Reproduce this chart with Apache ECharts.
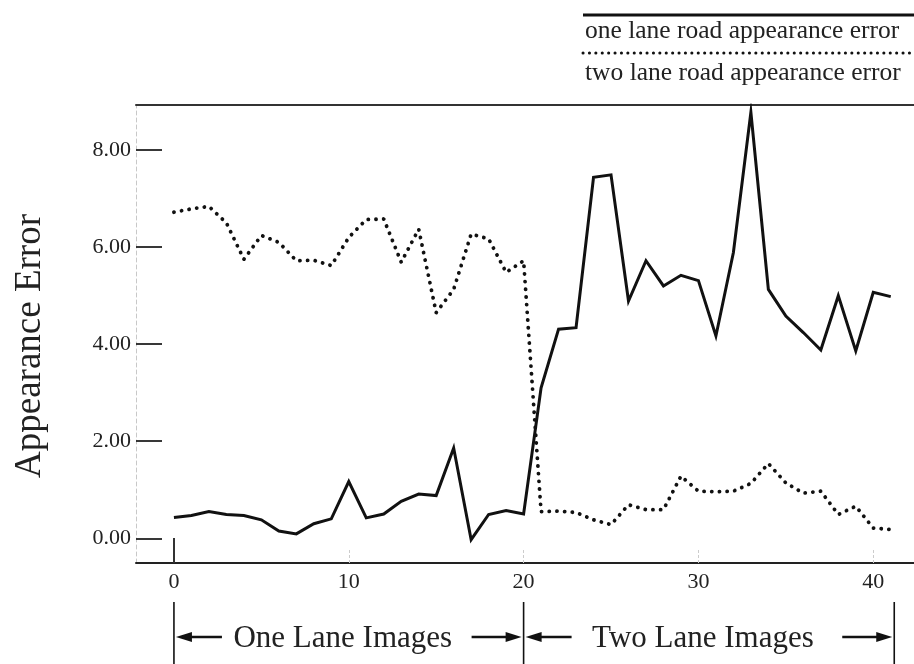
<!DOCTYPE html>
<html>
<head>
<meta charset="utf-8">
<script src="https://cdn.jsdelivr.net/npm/echarts@6/dist/echarts.min.js"></script>
<style>
  html, body { margin: 0; padding: 0; background: #fff; }
  #chart { width: 914px; height: 664px; }
</style>
</head>
<body>
<div id="chart"></div>
<script>
// image index is the position in each array (0..41)
const oneLaneError = [
  0.43, 0.47, 0.55, 0.49, 0.47, 0.38, 0.15, 0.09, 0.30, 0.40,
  1.17, 0.42, 0.50, 0.76, 0.91, 0.88, 1.86, -0.03, 0.49, 0.57,
  0.50, 3.10, 4.31, 4.34, 7.44, 7.49, 4.89, 5.72, 5.20, 5.42,
  5.31, 4.17, 5.89, 8.78, 5.13, 4.58, 4.24, 3.88, 5.00, 3.86,
  5.07, 4.98
];
const twoLaneError = [
  6.72, 6.79, 6.84, 6.50, 5.75, 6.24, 6.10, 5.72, 5.73, 5.62,
  6.20, 6.57, 6.58, 5.69, 6.37, 4.65, 5.13, 6.27, 6.17, 5.48,
  5.72, 0.55, 0.56, 0.53, 0.38, 0.28, 0.69, 0.59, 0.59, 1.28,
  0.97, 0.96, 0.97, 1.13, 1.54, 1.14, 0.93, 0.97, 0.49, 0.66,
  0.21, 0.18
];
const seriesNames = ["one lane road appearance error", "two lane road appearance error"];
const xLabelValues = [0, 10, 20, 30, 40];
const xFaintTicks = [10, 20, 30, 40];
const yTickValues = [0, 2, 4, 6, 8];
const sectionLabels = ["One Lane Images", "Two Lane Images"];
const sectionBounds = [0, 20, 41.2];

const FONT = "Liberation Serif";
const chart = echarts.init(document.getElementById("chart"));

const toPairs = (arr) => arr.map((v, i) => [i, v]);

const xRange = { min: -2.17, max: 42.33 };

const options = {
  animation: false,
  backgroundColor: "#fff",
  grid: { left: 136, right: 0, top: 105, bottom: 101, containLabel: false },
  xAxis: [
    {
      type: "value",
      position: "bottom",
      ...xRange,
      splitLine: { show: false },
      axisLine: { show: true, onZero: false, lineStyle: { color: "#222", width: 2 } },
      axisTick: {
        show: true,
        inside: true,
        length: 14,
        customValues: xFaintTicks,
        lineStyle: { color: "#ccc", width: 1, type: [3, 2] },
      },
      axisLabel: {
        customValues: xLabelValues,
        margin: 8,
        fontFamily: FONT,
        fontSize: 22,
        color: "#222",
      },
    },
    {
      // solid tick at image 0
      type: "value",
      position: "bottom",
      ...xRange,
      splitLine: { show: false },
      axisLine: { show: false, onZero: false },
      axisLabel: { show: false },
      axisTick: {
        show: true,
        inside: true,
        length: 25,
        customValues: [0],
        lineStyle: { color: "#333", width: 2 },
      },
    },
    {
      // top frame line
      type: "value",
      position: "top",
      ...xRange,
      splitLine: { show: false },
      axisLine: { show: true, onZero: false, lineStyle: { color: "#333", width: 2 } },
      axisTick: { show: false },
      axisLabel: { show: false },
    },
  ],
  yAxis: {
    type: "value",
    min: -0.51,
    max: 8.93,
    name: "Appearance Error",
    nameLocation: "middle",
    nameGap: 87,
    nameTextStyle: { fontFamily: FONT, fontSize: 37, color: "#222", padding: [0, 24, 0, 0] },
    splitLine: { show: false },
    axisLine: { show: true, onZero: false, lineStyle: { color: "#c8c8c8", width: 1, type: [4, 3] } },
    axisTick: {
      show: true,
      inside: true,
      length: 26,
      customValues: yTickValues,
      lineStyle: { color: "#222", width: 1.8 },
    },
    axisLabel: {
      customValues: yTickValues,
      margin: 5,
      fontFamily: FONT,
      fontSize: 22,
      color: "#222",
      formatter: (v) => v.toFixed(2),
    },
  },
  series: [
    {
      name: seriesNames[0],
      type: "line",
      data: toPairs(oneLaneError),
      showSymbol: false,
      lineStyle: { color: "#111", width: 3, join: "miter" },
      z: 3,
    },
    {
      name: seriesNames[1],
      type: "line",
      data: toPairs(twoLaneError),
      showSymbol: false,
      lineStyle: { color: "#111", width: 3.8, type: [0.1, 7.6], cap: "round" },
      z: 2,
    },
  ],
};

chart.setOption(options);

// legend drawn above the frame, lines over labels
const legendGraphics = [
  { type: "line", shape: { x1: 583, y1: 15, x2: 914, y2: 15 }, style: { stroke: "#111", lineWidth: 3 } },
  {
    type: "text", x: 585, y: 31,
    style: { text: seriesNames[0], font: `25.5px "${FONT}"`, fill: "#222", verticalAlign: "middle" },
  },
  {
    type: "line", shape: { x1: 583, y1: 53, x2: 914, y2: 53 },
    style: { stroke: "#111", lineWidth: 3, lineDash: [0.1, 6.3], lineCap: "round" },
  },
  {
    type: "text", x: 585, y: 73,
    style: { text: seriesNames[1], font: `25.5px "${FONT}"`, fill: "#222", verticalAlign: "middle" },
  },
];

// section brackets below the axis
const px = (v) => chart.convertToPixel({ xAxisIndex: 0 }, v);
const bx = sectionBounds.map(px);
const arrowY = 637;
const arrowLen = 48;
const arrow = (from, to) => {
  const dir = Math.sign(to - from);
  return [
    { type: "line", shape: { x1: from, y1: arrowY, x2: to - dir * 10, y2: arrowY }, style: { stroke: "#111", lineWidth: 2.5 } },
    {
      type: "polygon",
      shape: { points: [[to, arrowY], [to - dir * 16, arrowY - 5], [to - dir * 16, arrowY + 5]] },
      style: { fill: "#111" },
    },
  ];
};

const bracketGraphics = [];
bx.forEach((x) => {
  bracketGraphics.push({
    type: "line", shape: { x1: x, y1: 602, x2: x, y2: 664 }, style: { stroke: "#111", lineWidth: 1.6 },
  });
});
sectionLabels.forEach((label, i) => {
  const a = bx[i], b = bx[i + 1];
  bracketGraphics.push(...arrow(a + arrowLen, a + 2));
  bracketGraphics.push(...arrow(b - arrowLen - 4, b - 2));
  bracketGraphics.push({
    type: "text", x: (a + b) / 2 - 6, y: arrowY + 2,
    style: { text: label, font: `31px "${FONT}"`, fill: "#222", align: "center", verticalAlign: "middle" },
  });
});

chart.setOption({ graphic: legendGraphics.concat(bracketGraphics) });
</script>
</body>
</html>
